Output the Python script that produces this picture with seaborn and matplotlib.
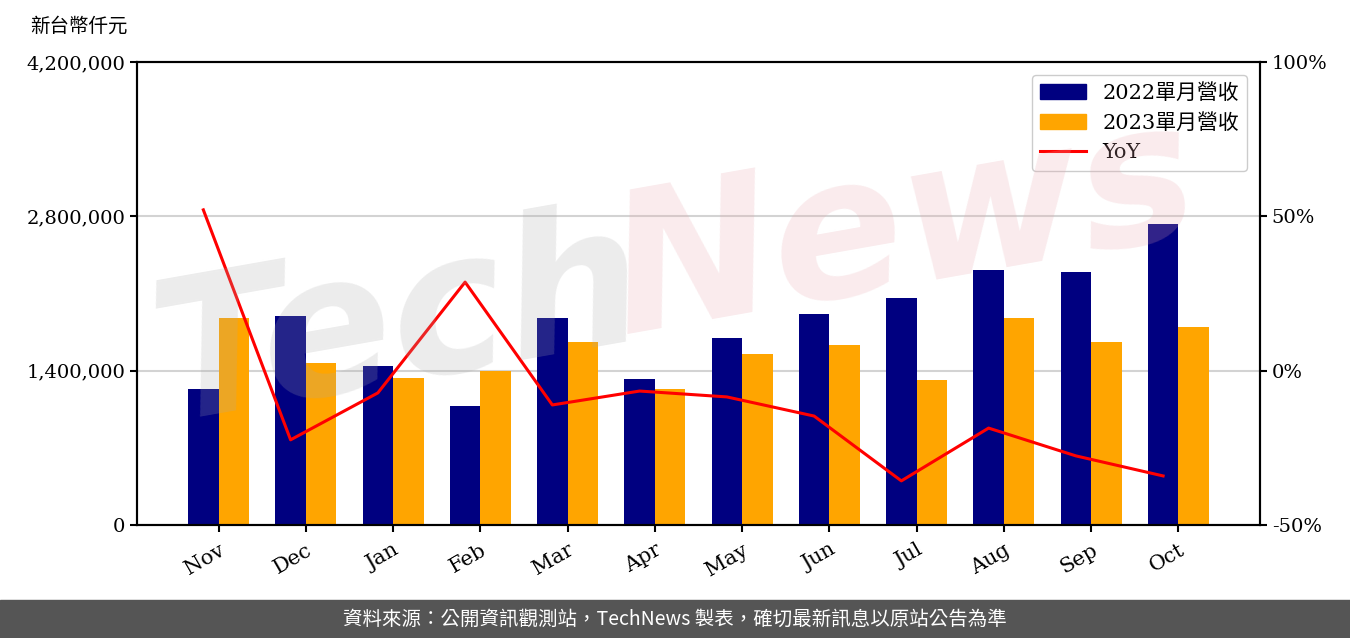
import matplotlib
matplotlib.use("Agg")
import matplotlib.pyplot as plt
import matplotlib.ticker as mticker
from matplotlib.patches import Rectangle
import numpy as np
import pandas as pd
import seaborn as sns

months = ["Nov", "Dec", "Jan", "Feb", "Mar", "Apr", "May", "Jun", "Jul", "Aug", "Sep", "Oct"]
rev_2022 = [1234000, 1896000, 1442000, 1080000, 1878000, 1324000,
            1696000, 1914000, 2059000, 2313000, 2295000, 2730000]
rev_2023 = [1878000, 1470000, 1333000, 1397000, 1660000, 1234000,
            1551000, 1633000, 1315000, 1878000, 1660000, 1796000]
yoy = [52.1, -22.4, -7.2, 28.7, -11.1, -6.6, -8.5, -14.7, -35.7, -18.6, -27.6, -34.1]

label_2022 = "2022單月營收"
label_2023 = "2023單月營收"

plt.rcParams["font.family"] = ["DejaVu Serif", "Noto Sans CJK TC"]

df = pd.DataFrame({
    "month": months * 2,
    "revenue": rev_2022 + rev_2023,
    "series": [label_2022] * 12 + [label_2023] * 12,
})

fig = plt.figure(figsize=(13.5, 6.38), dpi=100)
ax = fig.add_axes([0.1015, 0.1771, 0.8318, 0.7257])

ax.set_axisbelow(True)
ax.yaxis.grid(True, color="#d3d3d3", linewidth=1.5)
sns.barplot(data=df, x="month", y="revenue", hue="series", order=months,
            palette=["#000080", "#FFA500"], width=0.7, saturation=1,
            errorbar=None, ax=ax, legend=False)
ax.set_xlim(-0.935, 11.935)
ax.set_ylim(0, 4200000)
ax.set_yticks([0, 1400000, 2800000, 4200000])
ax.yaxis.set_major_formatter(mticker.FuncFormatter(lambda v, p: f"{int(v):,}"))
ax.set_xlabel("")
ax.set_ylabel("")
ax.tick_params(axis="x", labelsize=15, width=1.5, length=5, pad=6, labelrotation=30)
for lab in ax.get_xticklabels():
    lab.set_ha("right")
    lab.set_rotation_mode("anchor")
ax.tick_params(axis="y", labelsize=14, width=1.5, length=5)

ax2 = ax.twinx()
line_x = np.arange(len(months)) - 0.175
sns.lineplot(x=line_x, y=yoy, color="red", linewidth=2.2, ax=ax2, label="YoY", legend=False)
ax2.set_ylim(-50, 100)
ax2.set_yticks([-50, 0, 50, 100])
ax2.yaxis.set_major_formatter(mticker.FuncFormatter(lambda v, p: f"{int(v)}%"))
ax2.tick_params(axis="y", labelsize=14, width=1.5, length=5)
ax2.set_xlim(-0.935, 11.935)

for a in (ax, ax2):
    for s in a.spines.values():
        s.set_linewidth(1.5)

bars = [Rectangle((0, 0), 1, 1, color="#000080"), Rectangle((0, 0), 1, 1, color="#FFA500")]
line_h = ax2.get_lines()[0]
ax2.legend(bars + [line_h], [label_2022, label_2023, "YoY"], loc="upper right",
           fontsize=15, framealpha=1, edgecolor="#cccccc", handlelength=2.2,
           borderaxespad=0.6)

fig.text(0.022, 0.958, "新台幣仟元", fontsize=14, ha="left", va="center")

# watermark
fig.text(0.296, 0.49, "Tech", fontsize=140, fontweight="bold", fontstyle="italic",
         family="DejaVu Sans", color="#aaaaaa", alpha=0.22, rotation=10,
         ha="center", va="center")
fig.text(0.67, 0.64, "News", fontsize=140, fontweight="bold", fontstyle="italic",
         family="DejaVu Sans", color="#e8a5ad", alpha=0.22, rotation=10,
         ha="center", va="center")

# footer
fig.patches.append(Rectangle((0, 0), 1, 38 / 638, transform=fig.transFigure,
                             color="#555555", zorder=0))
fig.text(0.5, 19 / 638, "資料來源：公開資訊觀測站，TechNews 製表，確切最新訊息以原站公告為準",
         family=["Noto Sans CJK TC", "DejaVu Sans"], fontsize=14, color="white",
         ha="center", va="center")

fig.savefig("out.png", dpi=100)
